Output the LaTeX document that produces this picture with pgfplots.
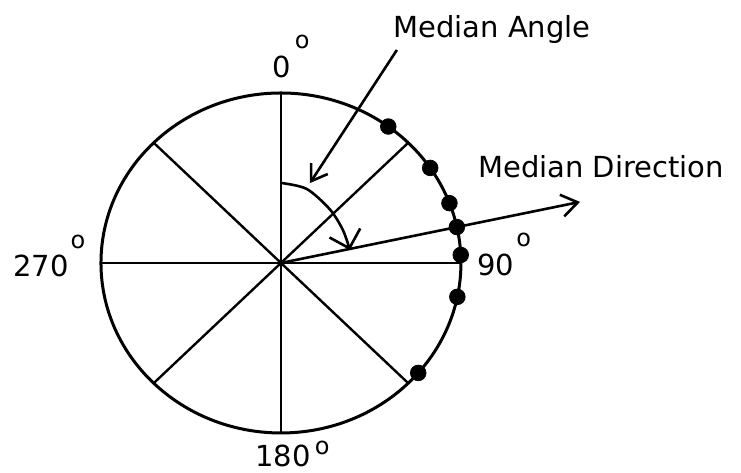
\documentclass[border=0pt]{standalone}
\usepackage{pgfplots}
\pgfplotsset{compat=1.18}
\usetikzlibrary{arrows.meta}
\usepackage{fontspec}
\setmainfont{DejaVu Sans}
\newcommand{\dg}[1]{\raisebox{#1}{\fontsize{12}{12}\selectfont o}}
\begin{document}
\begin{tikzpicture}
\begin{axis}[hide axis, x=90pt, y=85pt, xmin=-1.561, xmax=2.556, ymin=-1.235, ymax=1.547, clip=false]
\coordinate (bl) at (rel axis cs:0,0);
\coordinate (tr) at (rel axis cs:1,1);
\draw[line width=1.5pt] (axis cs:0,0) ellipse [x radius=1, y radius=1];
% spokes
\addplot[black, line width=1.2pt, no marks, data cs=polar] coordinates {(90,1) (270,1)};
\addplot[black, line width=1.2pt, no marks, data cs=polar] coordinates {(0,1) (180,1)};
\addplot[black, line width=1.2pt, no marks, data cs=polar] coordinates {(45,1) (225,1)};
\addplot[black, line width=1.2pt, no marks, data cs=polar] coordinates {(135,1) (315,1)};
% median direction
\addplot[black, line width=1.3pt, no marks, -{Straight Barb[length=8pt,width=11pt]}, data cs=polar] coordinates {(0,0) (12.2,1.70)};
% median angle arc
\addplot[black, line width=1.3pt, no marks, smooth, -{Straight Barb[length=8pt,width=16pt]}] coordinates {(0.006,0.47) (0.144,0.435) (0.272,0.315) (0.344,0.194) (0.383,0.076)};
% pointer
\addplot[black, line width=1.3pt, no marks, -{Straight Barb[length=7.5pt,width=10pt]}] coordinates {(0.644,1.253) (0.161,0.47)};
% observations
\addplot[black, only marks, mark=*, mark size=3.9pt, mark options={fill=black}, data cs=polar] coordinates {(53.4,1) (34,1) (20.6,1) (12.2,1) (2.7,1) (-11.5,1) (-40.3,1)};
\tikzset{lbl/.style={anchor=base west, inner sep=0pt, font=\fontsize{14.5}{17}\selectfont}}
\node[lbl] at (axis cs:0.622,1.329) {Median Angle};
\node[lbl] at (axis cs:1.094,0.5) {Median Direction};
\node[lbl] at (axis cs:-0.05,1.094) {0\hspace{2pt}\dg{14.2pt}};
\node[lbl] at (axis cs:1.089,-0.071) {90\hspace{1pt}\dg{14.2pt}};
\node[lbl] at (axis cs:-1.489,-0.082) {270\hspace{1pt}\dg{14.2pt}};
\node[lbl] at (axis cs:-0.144,-1.2) {180\hspace{2pt}\dg{6.2pt}};
\end{axis}
\pgfresetboundingbox
\path (bl) rectangle (tr);
\end{tikzpicture}
\end{document}
